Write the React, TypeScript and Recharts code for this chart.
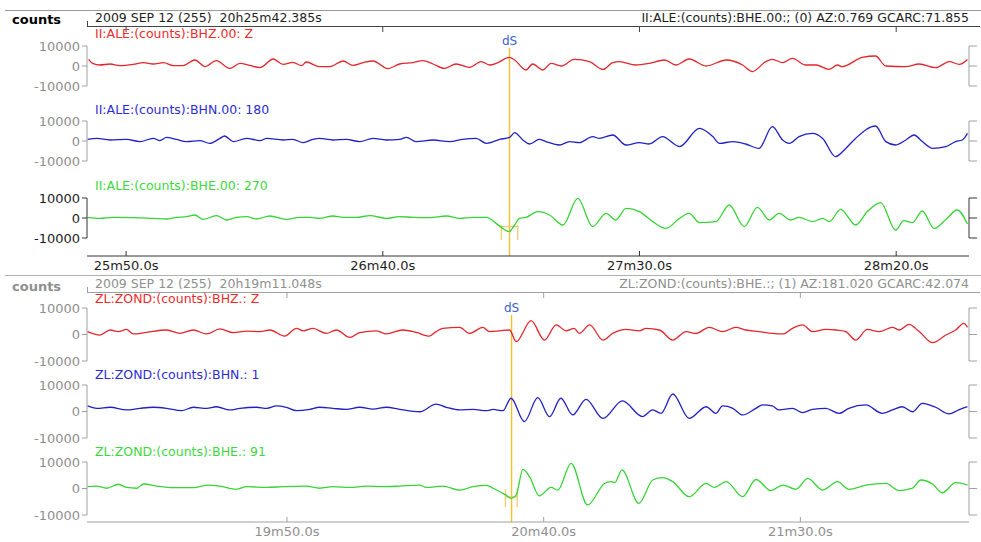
import React from 'react';
import { LineChart, Line, XAxis, YAxis, ReferenceLine } from 'recharts';

type Pt = [number, number];

const W = 981;
const SPAN = 171.8; // seconds shown in each record window
const PLOT_L = 87;
const PLOT_R = 12;
const FONT = '"DejaVu Sans", Verdana, sans-serif';

const RED = '#e3262b';
const BLUE = '#2020c4';
const GREEN = '#36d436';
const RED_TXT = '#ec2b2b';
const BLUE_TXT = '#2c2cd6';
const GREEN_TXT = '#3cd83c';
const GREY = '#8f8f8f';
const GREY_LINE = '#a0a0a0';
const DARK = '#1e1e1e';
const PICK = '#f5c12a';
const PICK_BAR = '#f2cc72';
const DS_BLUE = '#3a5fd0';

const ampTicks = [-10000, 0, 10000];

// ---- II.ALE record (times are seconds after 20h00m) ----
const aleStart = 1542.385;
const aleTicks = [1550, 1600, 1650, 1700];
const aleHeader = '2009 SEP 12 (255)  20h25m42.385s';
const aleInfo = 'II:ALE:(counts):BHE.00:; (0) AZ:0.769 GCARC:71.855';
const aleNames = ['II:ALE:(counts):BHZ.00: Z', 'II:ALE:(counts):BHN.00: 180', 'II:ALE:(counts):BHE.00: 270'];
const alePick = 82.3;
const alePickBar = [80.7, 83.9];

// [seconds after record start, counts]
const aleZ: Pt[] = [
  [0.3, 3300], [1.1, 1300], [2.5, 500], [4.5, 1000], [6.4, 200], [9.0, 800], [11.0, 1700], [12.9, 1000],
  [14.9, 1700], [16.8, 200], [18.7, 200], [21.0, 3000], [23.0, -300], [25.2, 2700], [27.8, -1200], [29.8, 1300],
  [31.7, 300], [33.7, -800], [36.3, 3500], [38.2, 800], [40.1, 1800], [41.8, 200], [42.7, 2000], [45.3, -300],
  [47.3, -300], [49.9, 2500], [51.8, 300], [53.8, 1700], [55.7, 2500], [58.6, -1300], [60.9, 1000], [63.5, 1700],
  [65.4, 2700], [67.4, 1000], [69.6, -1200], [71.9, 1000], [74.5, -700], [76.8, 2200], [78.4, 500], [79.7, 1300],
  [82.3, 4300], [83.3, 3000], [85.5, -2000], [86.8, 1000], [88.8, -2000], [90.4, 1300], [92.4, 0], [94.9, 3300],
  [97.9, 2200], [100.5, -1700], [102.4, 1700], [103.7, 2200], [106.9, 500], [109.5, 1300], [112.5, 3000], [114.7, 500],
  [117.3, 3500], [120.6, 0], [124.5, 3000], [127.7, 500], [129.6, -2800], [132.2, 2200], [133.5, 3300], [135.5, 1700],
  [137.4, 3800], [140.0, 500], [142.0, 500], [144.5, -1700], [146.2, 500], [147.1, -300], [151.0, 4300], [153.6, 5000],
  [155.6, 0], [159.5, -300], [162.1, 1000], [165.3, -800], [168.0, 2200], [169.9, 800], [171.5, 3300],
];

const aleN: Pt[] = [
  [0.1, 800], [1.9, 1300], [4.5, 500], [7.7, 800], [10.3, -300], [12.9, 1300], [14.2, 200], [15.5, 1800],
  [17.4, 800], [19.4, -300], [22.0, 200], [23.9, -1200], [25.9, 1300], [26.8, 2500], [28.5, -300], [31.1, 1300],
  [33.7, 200], [35.0, 1300], [38.2, 500], [40.1, 800], [42.1, -800], [44.0, 800], [45.3, 1300], [47.9, 500],
  [50.5, 800], [53.1, -300], [55.7, 1300], [58.3, 500], [60.9, 800], [62.2, 1800], [64.1, -300], [67.4, 500],
  [70.6, -300], [73.2, 800], [75.8, 1300], [77.8, -1200], [80.4, 800], [82.3, 1800], [83.3, 4200], [84.9, 500],
  [86.2, -1500], [88.1, 800], [89.4, -300], [92.0, -2000], [94.0, -300], [95.9, -800], [98.5, 2200], [99.8, 1300],
  [102.4, 3000], [105.0, -2000], [107.6, -800], [109.5, -1500], [112.1, 2200], [115.4, -2800], [119.3, 6300], [121.9, 2200],
  [123.2, -1200], [125.8, -300], [128.3, -1500], [130.9, -3700], [133.5, 7200], [135.5, 500], [136.8, -1200], [138.7, 2200],
  [141.3, 3800], [143.3, 1300], [145.8, -7800], [147.8, -3700], [149.7, 1300], [153.6, 7500], [155.6, -300], [157.5, -2000],
  [159.5, 500], [161.1, 3000], [162.7, -300], [164.7, -3700], [167.3, -2800], [169.2, -300], [170.5, 500], [171.5, 3800],
];

const aleE: Pt[] = [
  [0.1, 300], [2.5, -200], [5.1, 300], [9.0, 200], [12.9, -200], [15.5, -500], [17.4, 300], [19.4, 700],
  [21.0, 1500], [22.6, -700], [25.2, 1200], [27.2, -1000], [29.1, 300], [31.1, 700], [33.0, -500], [35.6, 1000],
  [38.8, -700], [41.4, 300], [43.4, 300], [45.3, -200], [47.9, 1000], [49.9, 300], [52.5, 300], [55.1, 1200],
  [58.3, -200], [60.9, 700], [63.5, 300], [66.7, 200], [70.0, 1000], [72.6, -200], [75.2, 300], [77.8, 300],
  [79.7, -2700], [81.0, -5200], [82.2, -6800], [83.3, -3500], [84.2, -200], [85.5, 300], [87.8, 3200], [90.1, 1500],
  [92.7, -3500], [95.6, 9800], [98.5, -4300], [101.1, 2300], [103.0, -1000], [105.0, 4800], [107.6, 3200], [110.2, -1800],
  [112.8, -5200], [115.4, -200], [117.3, 2300], [119.3, -2300], [122.5, -1800], [125.1, 6500], [128.0, -4300], [130.6, 5300],
  [132.9, -1000], [134.8, 2300], [137.1, -1000], [138.7, 300], [141.3, -1800], [143.3, -200], [144.6, -1800], [146.8, 4300],
  [149.7, -3500], [152.0, 3200], [154.6, 7700], [157.5, -6000], [159.1, -1300], [160.8, -2300], [162.7, 3500], [165.0, -5200],
  [167.3, -700], [169.5, 4000], [171.5, -3000],
];

// ---- ZL.ZOND record ----
const zondStart = 1151.048;
const zondTicks = [1190, 1240, 1290];
const zondHeader = '2009 SEP 12 (255)  20h19m11.048s';
const zondInfo = 'ZL:ZOND:(counts):BHE.:; (1) AZ:181.020 GCARC:42.074';
const zondNames = ['ZL:ZOND:(counts):BHZ.: Z', 'ZL:ZOND:(counts):BHN.: 1', 'ZL:ZOND:(counts):BHE.: 91'];
const zondPick = 82.7;
const zondPickBar = [81.5, 83.8];

const zondZ: Pt[] = [
  [0.1, 1100], [2.5, -200], [4.5, 1700], [6.1, 1100], [7.7, 1900], [9.0, 200], [11.6, 800], [15.5, 1700],
  [18.1, 400], [20.7, 1700], [23.3, 200], [25.9, 2100], [28.5, 700], [31.1, 1300], [33.7, 1100], [35.6, 1700],
  [38.5, -600], [40.8, 2300], [42.1, 1400], [44.0, 2300], [46.6, 400], [48.6, 1700], [51.2, -1100], [53.1, 700],
  [56.4, 1400], [58.3, 200], [61.5, 1700], [64.1, 800], [66.7, -600], [68.0, 1100], [69.3, 2300], [72.6, 2700],
  [74.5, 400], [77.1, 2700], [78.4, 1100], [80.4, 1400], [82.3, 1700], [83.6, -2700], [86.5, 5200], [89.1, -2100],
  [91.4, 3600], [93.3, 1400], [94.9, 2300], [95.9, 400], [97.9, 3600], [100.5, -2100], [102.4, 400], [105.0, 1900],
  [107.6, 1400], [108.9, 2300], [111.5, 1700], [114.1, -2100], [116.7, 1100], [118.6, 400], [121.2, 2700], [123.8, 1100],
  [126.4, 2700], [128.3, 1700], [130.9, 1100], [133.5, 400], [135.5, 200], [137.4, 2300], [139.4, 3600], [141.3, 1100],
  [143.9, 1900], [145.9, 1700], [147.8, 1100], [149.7, -2100], [152.0, 1900], [154.3, 1100], [156.9, 2700], [158.2, 1700],
  [160.1, 3800], [162.1, 1100], [164.7, -3100], [167.3, -200], [169.2, 1700], [170.8, 4200], [171.5, 2700],
];

const zondN: Pt[] = [
  [0.1, 2100], [1.9, 1200], [4.5, 1600], [7.7, 600], [10.3, 1200], [12.9, 1600], [15.5, 1200], [18.4, 300],
  [20.7, 1600], [23.3, 1200], [25.2, 1800], [27.8, 600], [29.8, 1200], [33.0, 1600], [35.0, 1200], [36.9, 2100],
  [38.8, 1600], [40.8, 300], [43.4, 800], [45.3, 1600], [47.9, 1200], [50.5, 800], [53.1, 1600], [55.7, 900],
  [58.3, 1600], [60.9, 800], [64.8, -100], [68.0, 2800], [70.0, 1600], [72.6, 600], [75.2, 800], [77.8, 300],
  [79.1, 800], [81.0, 300], [82.6, 5000], [85.2, -3800], [87.8, 5200], [90.1, -1900], [92.3, 5000], [94.6, -1300],
  [97.2, 4600], [100.5, -2600], [104.3, 4000], [108.2, -1900], [110.2, 600], [111.8, -700], [114.1, 6600], [117.3, -2600],
  [120.6, 1800], [122.5, -700], [123.8, 2100], [125.8, 1200], [127.7, -1300], [130.3, 1200], [131.6, 2500], [133.5, 2100],
  [134.8, 600], [137.4, 1200], [139.4, -400], [141.3, 800], [143.9, 1200], [146.5, -700], [148.4, 1200], [151.7, 2500],
  [154.9, -700], [156.9, 600], [158.8, 1800], [160.8, -100], [162.7, 3100], [165.3, 1600], [167.9, -900], [169.8, 600],
  [171.5, 1800],
];

const zondE: Pt[] = [
  [0.1, 700], [1.9, 900], [3.8, 100], [6.1, 1600], [7.7, 400], [9.7, 100], [11.0, 1700], [13.6, 900],
  [16.8, 300], [20.7, 300], [23.6, 1300], [25.9, 900], [29.1, -300], [31.1, 700], [35.0, 400], [38.2, 700],
  [42.7, 900], [45.3, 100], [47.9, 700], [51.2, 400], [54.4, 900], [57.7, 700], [60.9, 900], [64.8, 1300],
  [66.1, 400], [69.3, 900], [72.6, -600], [75.2, 700], [77.8, 1200], [79.1, 100], [81.6, -2500], [82.6, -3700],
  [83.6, -2500], [84.9, 7200], [86.2, 4500], [88.1, -2800], [90.4, 400], [91.7, -600], [94.3, 9500], [97.5, -6200],
  [100.8, 1900], [102.1, 2600], [102.8, 2200], [104.2, 7000], [107.5, -5600], [110.2, 3200], [112.1, 4100], [114.1, 2600],
  [117.3, -3100], [120.6, 1900], [122.2, 400], [124.5, 2600], [127.7, -3100], [130.3, 3400], [133.2, -800], [135.5, 1300],
  [138.1, -300], [140.4, 3800], [143.3, -600], [146.2, 2600], [148.4, -300], [151.7, 1300], [155.6, 1900], [158.2, -800],
  [160.8, 100], [162.4, 3200], [164.7, 1700], [166.6, -1600], [169.2, 2200], [171.5, 1300],
];

const fmtTime = (s: number) => `${Math.floor(s / 60)}m${(s % 60).toFixed(1)}s`;
const blank = () => '';

type TxtProps = {
  x: number; y: number; color: string; size?: number; bold?: boolean; right?: boolean; children: React.ReactNode;
};

function Txt({ x, y, color, size = 12.5, bold, right, children }: TxtProps) {
  const style: React.CSSProperties = {
    position: 'absolute', top: y, transform: 'translateY(-50%)', color, fontSize: size,
    fontFamily: FONT, fontWeight: bold ? 'bold' : 'normal', whiteSpace: 'pre', lineHeight: 1,
  };
  if (right) style.right = W - x;
  else style.left = x;
  return <div style={style}>{children}</div>;
}

type TraceProps = {
  points: Pt[]; start: number; color: string; top: number; bottom: number; axis: string; text: string;
  bar?: number[]; barSpan?: number[]; barLevel?: number;
};

// one seismogram channel, its amplitude axis runs from +10000 at `top` to -10000 at `bottom`
function Trace({ points, start, color, top, bottom, axis, text, bar, barSpan, barLevel }: TraceProps) {
  const pad = 8;
  const data = points.map(([t, v]) => ({ t: start + t, v }));
  const marks: React.ReactNode[] = [];
  if (bar && barSpan && barLevel !== undefined) {
    bar.forEach((t, i) =>
      marks.push(
        <ReferenceLine key={`v${i}`} yAxisId="l" ifOverflow="visible" stroke={PICK_BAR} strokeWidth={1.3}
          segment={[{ x: start + t, y: barSpan[0] }, { x: start + t, y: barSpan[1] }]} />,
      ),
    );
    marks.push(
      <ReferenceLine key="h" yAxisId="l" ifOverflow="visible" stroke={PICK_BAR} strokeWidth={1.3}
        segment={[{ x: start + bar[0], y: barLevel }, { x: start + bar[1], y: barLevel }]} />,
    );
  }
  return (
    <div style={{ position: 'absolute', left: 0, top: top - pad }}>
      <LineChart width={W} height={bottom - top + pad * 2} data={data}
        margin={{ top: pad, right: 0, bottom: pad, left: 0 }}>
        <XAxis dataKey="t" type="number" domain={[start, start + SPAN]} hide allowDataOverflow />
        <YAxis yAxisId="l" domain={[-10000, 10000]} ticks={ampTicks} interval={0} width={PLOT_L}
          tickSize={5} tickMargin={2} stroke={axis} allowDataOverflow
          tick={{ fill: text, fontSize: 13, fontFamily: FONT }} />
        <YAxis yAxisId="r" orientation="right" domain={[-10000, 10000]} ticks={ampTicks} interval={0}
          width={PLOT_R} tickSize={8} tickFormatter={blank} stroke={axis} allowDataOverflow />
        {marks}
        <Line yAxisId="l" type="monotone" dataKey="v" stroke={color} strokeWidth={1.3} dot={false}
          isAnimationActive={false} />
      </LineChart>
    </div>
  );
}

type AxisProps = {
  start: number; ticks: number[]; pick: number; plotTop: number; axisY: number; line: string; text: string;
};

// time axis under a record, with the dS phase pick across all three channels
function TimeAxis({ start, ticks, pick, plotTop, axisY, line, text }: AxisProps) {
  const head = 20;
  const foot = 30;
  const data = ticks.map((t) => ({ t, y: 0.5 }));
  return (
    <div style={{ position: 'absolute', left: 0, top: plotTop - head }}>
      <LineChart width={W} height={head + axisY - plotTop + foot} data={data}
        margin={{ top: head, right: PLOT_R, bottom: 0, left: PLOT_L }}>
        <XAxis dataKey="t" type="number" domain={[start, start + SPAN]} ticks={ticks} interval={0}
          tickFormatter={fmtTime} height={foot} tickSize={-5} tickMargin={10} stroke={line}
          tick={{ fill: text, fontSize: 13, fontFamily: FONT }} allowDataOverflow />
        <YAxis hide domain={[0, 1]} allowDataOverflow />
        <Line dataKey="y" stroke="none" dot={false} isAnimationActive={false} />
        <ReferenceLine x={start + pick} stroke={PICK} strokeWidth={1.4}
          label={{ value: 'dS', position: 'top', offset: 3, fill: DS_BLUE, fontSize: 12, fontFamily: FONT }} />
      </LineChart>
    </div>
  );
}

// header rule with the time ticks hanging below it
function HeaderTicks({ start, ticks, y, line }: { start: number; ticks: number[]; y: number; line: string }) {
  const data = ticks.map((t) => ({ t, y: 0.5 }));
  return (
    <>
      <div style={{
        position: 'absolute', left: PLOT_L, top: y - 5, width: 892, height: 5,
        borderLeft: `1px solid ${line}`, borderBottom: `1px solid ${line}`,
      }} />
      <div style={{ position: 'absolute', left: 0, top: y - 19.5 }}>
        <LineChart width={W} height={30} data={data}
          margin={{ top: 0, right: PLOT_R, bottom: 0, left: PLOT_L }}>
          <XAxis orientation="top" dataKey="t" type="number" domain={[start, start + SPAN]} ticks={ticks}
            interval={0} height={20} tickSize={-5} tickFormatter={blank} axisLine={false} stroke={line} />
          <YAxis hide domain={[0, 1]} allowDataOverflow />
          <Line dataKey="y" stroke="none" dot={false} isAnimationActive={false} />
        </LineChart>
      </div>
    </>
  );
}

export default function App() {
  return (
    <div style={{ position: 'absolute', left: 0, top: 0, width: W, height: 542, background: '#fff', overflow: 'hidden' }}>
      <div style={{ position: 'absolute', left: 5, top: 10, width: 976, height: 1, background: '#9a9a9a' }} />
      <div style={{ position: 'absolute', left: 5, top: 275, width: 976, height: 1, background: '#b0b0b0' }} />

      {/* II.ALE */}
      <Txt x={12} y={19} color="#000" bold size={13}>counts</Txt>
      <Txt x={95} y={17.5} color={DARK}>{aleHeader}</Txt>
      <Txt x={969} y={17.5} color={DARK} right>{aleInfo}</Txt>
      <HeaderTicks start={aleStart} ticks={aleTicks} y={26} line="#444" />
      <TimeAxis start={aleStart} ticks={aleTicks} pick={alePick} plotTop={48} axisY={256} line="#333" text={DARK} />
      <Trace points={aleZ} start={aleStart} color={RED} top={46} bottom={86} axis={GREY_LINE} text={GREY} />
      <Trace points={aleN} start={aleStart} color={BLUE} top={121} bottom={161} axis={GREY_LINE} text={GREY} />
      <Trace points={aleE} start={aleStart} color={GREEN} top={198} bottom={238} axis="#333" text={DARK}
        bar={alePickBar} barSpan={[-3500, -11000]} barLevel={-4300} />
      <Txt x={95} y={34} color={RED_TXT}>{aleNames[0]}</Txt>
      <Txt x={95} y={110} color={BLUE_TXT}>{aleNames[1]}</Txt>
      <Txt x={95} y={186} color={GREEN_TXT}>{aleNames[2]}</Txt>

      {/* ZL.ZOND */}
      <Txt x={12} y={286} color={GREY} bold size={13}>counts</Txt>
      <Txt x={95} y={284} color={GREY}>{zondHeader}</Txt>
      <Txt x={969} y={284} color={GREY} right>{zondInfo}</Txt>
      <HeaderTicks start={zondStart} ticks={zondTicks} y={292} line={GREY_LINE} />
      <TimeAxis start={zondStart} ticks={zondTicks} pick={zondPick} plotTop={315} axisY={522} line={GREY_LINE} text={GREY} />
      <Trace points={zondZ} start={zondStart} color={RED} top={308} bottom={361} axis={GREY_LINE} text={GREY} />
      <Trace points={zondN} start={zondStart} color={BLUE} top={385} bottom={438} axis={GREY_LINE} text={GREY} />
      <Trace points={zondE} start={zondStart} color={GREEN} top={462} bottom={515} axis={GREY_LINE} text={GREY}
        bar={zondPickBar} barSpan={[-300, -7100]} barLevel={-3100} />
      <Txt x={95} y={299} color={RED_TXT}>{zondNames[0]}</Txt>
      <Txt x={95} y={375} color={BLUE_TXT}>{zondNames[1]}</Txt>
      <Txt x={95} y={452} color={GREEN_TXT}>{zondNames[2]}</Txt>
    </div>
  );
}
